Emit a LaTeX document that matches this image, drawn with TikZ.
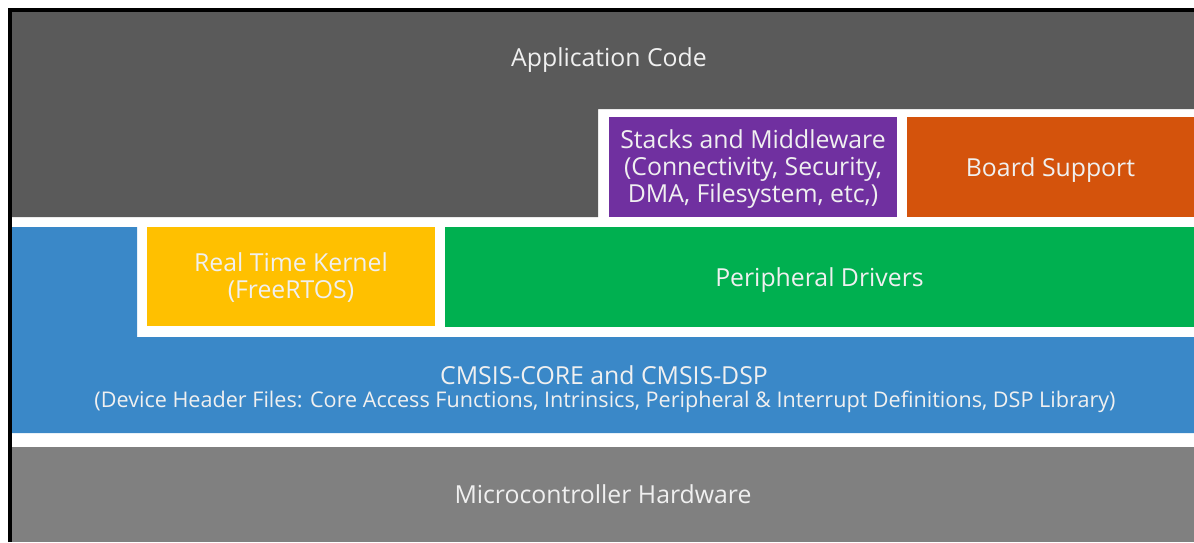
\documentclass[tikz,border=0pt]{standalone}
\usepackage{fontspec}
\setmainfont{Open Sans}
\definecolor{appgray}{RGB}{90,90,90}
\definecolor{hwgray}{RGB}{128,128,128}
\definecolor{stackpurple}{RGB}{112,48,160}
\definecolor{boardorange}{RGB}{212,83,12}
\definecolor{kernelyellow}{RGB}{255,192,0}
\definecolor{drivergreen}{RGB}{0,176,80}
\definecolor{cmsisblue}{RGB}{58,136,200}
\definecolor{labelwhite}{RGB}{240,240,240}
\tikzset{every picture/.style={line width=0.75pt}}
\tikzset{
  layer/.style={anchor=north west, inner sep=0pt, outer sep=0pt, draw=none, text=labelwhite, align=center},
  label/.style={inner sep=0pt, text=labelwhite, align=center, font=\fontsize{24.8}{27.3}\selectfont},
  smalllabel/.style={inner sep=0pt, text=labelwhite, align=center, font=\fontsize{21.6}{24}\selectfont}
}

\begin{document}
\begin{tikzpicture}[x=1pt,y=1pt,yscale=-1,xscale=1]
		\useasboundingbox (0,0) rectangle (1194,542);
		\fill [white] (0,0) rectangle (1194,542);

		%Shape: Application layer
		\fill [appgray] (12,12) -- (1194,12) -- (1194,109) -- (598,109) -- (598,217) -- (12,217) -- cycle;
		%Shape: Stacks and Middleware
		\node (stacks) [layer, fill=stackpurple, minimum width=288, minimum height=100] at (609,117) {};
		%Shape: Board Support
		\node (board) [layer, fill=boardorange, minimum width=287, minimum height=100] at (907,117) {};
		%Shape: CMSIS layer
		\fill [cmsisblue] (12,227) -- (137,227) -- (137,337) -- (1194,337) -- (1194,433) -- (12,433) -- cycle;
		%Shape: Real Time Kernel
		\node (kernel) [layer, fill=kernelyellow, minimum width=288, minimum height=99] at (147,227) {};
		%Shape: Peripheral Drivers
		\node (drivers) [layer, fill=drivergreen, minimum width=749, minimum height=100] at (445,227) {};
		%Shape: Microcontroller Hardware
		\node (hardware) [layer, fill=hwgray, minimum width=1182, minimum height=95] at (12,447) {};

		%Straight Lines: frame
		\draw [line width=4.5pt] (9.75,542) -- (9.75,9.75) -- (1194,9.75);

		% Text Node
		\node (applabel) [label] at (609,60) {Application Code};
		% Text Node
		\node (stackslabel) [label] at ([yshift=2]stacks.center) {Stacks and Middleware\\(Connectivity, Security,\\DMA, Filesystem, etc,)};
		% Text Node
		\node (boardlabel) [label] at ([yshift=3]board.center) {Board Support};
		% Text Node
		\node (kernellabel) [label] at ([yshift=1]kernel.center) {Real Time Kernel\\(FreeRTOS)};
		% Text Node
		\node (driverslabel) [label] at ([yshift=3]drivers.center) {Peripheral Drivers};
		% Text Node
		\node (cmsislabel) [label] at (604,375) {CMSIS-CORE and CMSIS-DSP};
		% Text Node
		\node (cmsisdetail) [smalllabel] at (605,402) {(Device Header Files: Core Access Functions, Intrinsics, Peripheral \& Interrupt Definitions, DSP Library)};
		% Text Node
		\node (hardwarelabel) [label] at (hardware.center) {Microcontroller Hardware};
\end{tikzpicture}
\end{document}
